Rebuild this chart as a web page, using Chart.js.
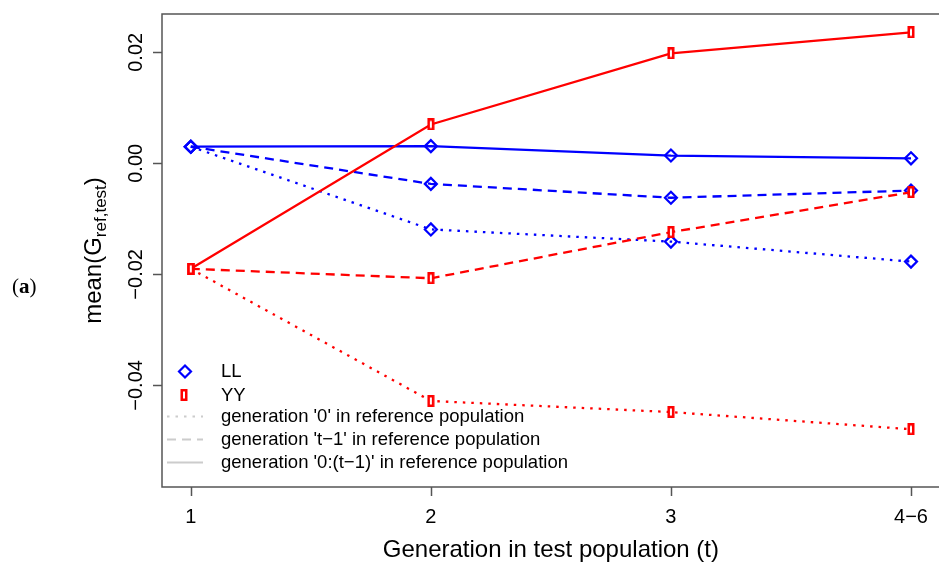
<!DOCTYPE html>
<html>
<head>
<meta charset="utf-8">
<script src="https://cdn.jsdelivr.net/npm/chart.js@4"></script>
<style>
html, body { margin: 0; padding: 0; background: #fff; overflow: hidden; }
#wrap { width: 948px; height: 566px; }
</style>
</head>
<body>
<div id="wrap"><canvas id="chart" width="948" height="566"></canvas></div>
<script>
// data
const generations = [1, 2, 3, 4];
const generationLabels = ['1', '2', '3', '4\u22126'];
const yTicks = [0.02, 0.00, -0.02, -0.04];

const llDotted = [0.0030, -0.0119, -0.0141, -0.0177];
const llDashed = [0.0030, -0.0037, -0.0062, -0.0049];
const llSolid = [0.0030, 0.0031, 0.0014, 0.0009];

const yyDotted = [-0.0190, -0.0428, -0.0448, -0.0479];
const yyDashed = [-0.0190, -0.0207, -0.0124, -0.0052];
const yySolid = [-0.0190, 0.0070, 0.0198, 0.0236];

const groupNames = ['LL', 'YY'];
const lineNames = [
	"generation '0' in reference population",
	"generation 't\u22121' in reference population",
	"generation '0:(t\u22121)' in reference population",
];

const BLUE = '#0000ff';
const RED = '#ff0000';
const AXIS = '#555555';
const DOTS = [2.5, 6];
const DASHES = [9, 6];

// narrow hollow rectangle used by R for the YY points
function makeBarMarker() {
	const c = document.createElement('canvas');
	c.width = 8;
	c.height = 12;
	const g = c.getContext('2d');
	g.fillStyle = RED;
	g.fillRect(0.5, 0, 7, 12);
	g.fillStyle = '#fff';
	g.fillRect(3, 2.5, 2, 7);
	return c;
}
const barMarker = makeBarMarker();

function toPoints(values) {
	return values.map((v, i) => ({ x: generations[i], y: v }));
}

function series(values, color, dash, isYY) {
	return {
		data: toPoints(values),
		borderColor: color,
		borderWidth: 2.3,
		borderDash: dash,
		backgroundColor: '#fff',
		pointStyle: isYY ? barMarker : 'rectRot',
		pointRadius: 6,
		pointBorderWidth: 2.2,
		pointBorderColor: color,
		pointBackgroundColor: 'rgba(255,255,255,0)',
		tension: 0,
		fill: false,
	};
}

function fmtTick(v) {
	return v.toFixed(2).replace('-', '\u2212');
}

const rAxes = {
	id: 'rAxes',
	beforeDatasetsDraw(chart) {
		const { ctx, chartArea: a, scales: { x, y } } = chart;
		ctx.save();
		ctx.strokeStyle = AXIS;
		ctx.lineWidth = 1.5;
		ctx.strokeRect(a.left, a.top, a.right - a.left, a.bottom - a.top);

		ctx.beginPath();
		generations.forEach(g => {
			const px = Math.round(x.getPixelForValue(g)) + 0.5;
			ctx.moveTo(px, a.bottom);
			ctx.lineTo(px, a.bottom + 9);
		});
		yTicks.forEach(v => {
			const py = Math.round(y.getPixelForValue(v)) + 0.5;
			ctx.moveTo(a.left, py);
			ctx.lineTo(a.left - 9, py);
		});
		ctx.stroke();

		ctx.fillStyle = '#000';
		ctx.font = '20px "Liberation Sans", Arial, sans-serif';
		ctx.textAlign = 'center';
		ctx.textBaseline = 'alphabetic';
		generations.forEach((g, i) => {
			ctx.fillText(generationLabels[i], x.getPixelForValue(g), 523);
		});
		yTicks.forEach(v => {
			ctx.save();
			ctx.translate(142, y.getPixelForValue(v));
			ctx.rotate(-Math.PI / 2);
			ctx.fillText(fmtTick(v), 0, 0);
			ctx.restore();
		});

		// axis titles
		ctx.font = '24px "Liberation Sans", Arial, sans-serif';
		ctx.fillText('Generation in test population (t)', (a.left + a.right) / 2, 557);

		ctx.save();
		ctx.translate(101, (a.top + a.bottom) / 2);
		ctx.rotate(-Math.PI / 2);
		const big = '24px "Liberation Sans", Arial, sans-serif';
		const small = '17px "Liberation Sans", Arial, sans-serif';
		ctx.font = big;
		const w1 = ctx.measureText('mean(G').width;
		const w3 = ctx.measureText(')').width;
		ctx.font = small;
		const w2 = ctx.measureText('ref,test').width;
		let start = -(w1 + w2 + w3) / 2;
		ctx.textAlign = 'left';
		ctx.font = big;
		ctx.fillText('mean(G', start, 0);
		ctx.font = small;
		ctx.fillText('ref,test', start + w1, 5);
		ctx.font = big;
		ctx.fillText(')', start + w1 + w2, 0);
		ctx.restore();

		// panel letter
		ctx.textAlign = 'left';
		ctx.font = '21px "Liberation Serif", "DejaVu Serif", serif';
		let px = 12;
		ctx.fillText('(', px, 293);
		px += ctx.measureText('(').width;
		ctx.font = 'bold 21px "Liberation Serif", "DejaVu Serif", serif';
		ctx.fillText('a', px, 293);
		px += ctx.measureText('a').width;
		ctx.font = '21px "Liberation Serif", "DejaVu Serif", serif';
		ctx.fillText(')', px, 293);
		ctx.restore();
	},
	afterDraw(chart) {
		const { ctx } = chart;
		ctx.save();
		ctx.font = '18.5px "Liberation Sans", Arial, sans-serif';
		ctx.textAlign = 'left';
		ctx.textBaseline = 'middle';
		ctx.fillStyle = '#000';

		// point symbols
		ctx.strokeStyle = BLUE;
		ctx.lineWidth = 2.2;
		ctx.beginPath();
		ctx.moveTo(185, 365.5);
		ctx.lineTo(191, 371.5);
		ctx.lineTo(185, 377.5);
		ctx.lineTo(179, 371.5);
		ctx.closePath();
		ctx.stroke();
		ctx.drawImage(barMarker, 180, 389);
		ctx.fillText(groupNames[0], 221, 372);
		ctx.fillText(groupNames[1], 221, 395.5);

		// line types
		const rows = [416.5, 439.5, 462.5];
		const dashes = [DOTS, DASHES, []];
		ctx.strokeStyle = '#cccccc';
		rows.forEach((ry, i) => {
			ctx.setLineDash(dashes[i]);
			ctx.beginPath();
			ctx.moveTo(167, ry);
			ctx.lineTo(203, ry);
			ctx.stroke();
			ctx.fillText(lineNames[i], 221, ry);
		});
		ctx.restore();
	},
};

new Chart(document.getElementById('chart').getContext('2d'), {
	type: 'line',
	data: {
		datasets: [
			series(yySolid, RED, [], true),
			series(yyDashed, RED, DASHES, true),
			series(yyDotted, RED, DOTS, true),
			series(llSolid, BLUE, [], false),
			series(llDashed, BLUE, DASHES, false),
			series(llDotted, BLUE, DOTS, false),
		],
	},
	options: {
		responsive: false,
		animation: false,
		devicePixelRatio: 1,
		layout: { padding: { left: 162, top: 14, right: 1, bottom: 79 } },
		plugins: {
			legend: { display: false },
			tooltip: { enabled: false },
		},
		scales: {
			x: { type: 'linear', min: 0.88, max: 4.12, display: false },
			y: { type: 'linear', min: -0.0583, max: 0.0269, display: false },
		},
	},
	plugins: [rAxes],
});
</script>
</body>
</html>
